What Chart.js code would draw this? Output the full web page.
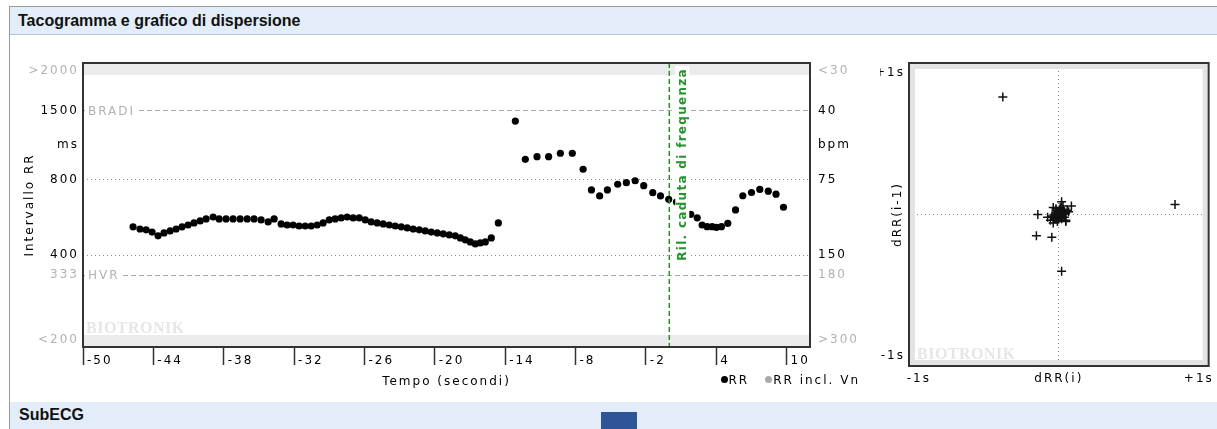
<!DOCTYPE html>
<html><head><meta charset="utf-8">
<script src="https://cdn.jsdelivr.net/npm/chart.js@4.4.1/dist/chart.umd.min.js"></script>
<style>
html,body{margin:0;padding:0;background:#fff;width:1217px;height:429px;overflow:hidden;}
.panel{position:absolute;left:9px;top:6px;width:1230px;height:395px;border-left:1px solid #9a9a9a;border-top:1px solid #9a9a9a;border-bottom:1px solid #9a9a9a;}
.hdr{position:absolute;left:10px;width:1230px;background:#e3edf9;font:bold 16px "Liberation Sans",Arial,sans-serif;color:#111;padding-left:8px;box-sizing:border-box;}
#h1{top:7px;height:28px;line-height:28px;border-bottom:1px solid #b9c4d2;}
#h2{top:402px;height:27px;line-height:25px;border-left:1px solid #9a9a9a;left:9px;padding-left:9px;}
#blk{position:absolute;left:601px;top:412px;width:36px;height:17px;background:#2d5597;}
canvas{position:absolute;}
#c1{left:10px;top:36px;}
#c2{left:880px;top:36px;}
#legend{position:absolute;right:357px;top:372px;font:12px "DejaVu Sans",sans-serif;letter-spacing:2px;color:#000;white-space:nowrap;line-height:16px;}
#legend span{margin-left:16px;}
#legend i{display:inline-block;width:7px;height:7px;border-radius:50%;margin-right:1px;vertical-align:1px;}
</style></head>
<body>
<div class="panel"></div>
<div class="hdr" id="h1">Tacogramma e grafico di dispersione</div>
<div class="hdr" id="h2">SubECG</div>
<div id="blk"></div>
<canvas id="c1" width="870" height="364"></canvas>
<canvas id="c2" width="337" height="364"></canvas>
<div id="legend"></div>
<script>
// ---- Tachogram data (time in s, RR interval in ms) ----
const TIME_S = [
 -45.73,-45.14,-44.62,-44.11,-43.60,-43.09,-42.57,-42.06,-41.55,-41.04,
 -40.53,-40.01,-39.50,-38.90,-38.39,-37.80,-37.20,-36.60,-36.00,-35.41,
 -34.81,-34.21,-33.70,-33.10,-32.59,-32.08,-31.57,-31.05,-30.54,-30.03,
 -29.52,-29.00,-28.49,-27.98,-27.47,-26.96,-26.44,-25.93,-25.42,-24.91,
 -24.40,-23.88,-23.37,-22.86,-22.35,-21.84,-21.32,-20.81,-20.30,-19.79,
 -19.28,-18.76,-18.25,-17.82,-17.40,-16.97,-16.54,-16.12,-15.69,-15.18,
 -14.58,
 -13.13,-12.28,-11.28,-10.29,-9.29,-8.27,-7.35,-6.64,-5.94,-5.28,
 -4.40,-3.66,-2.91,-2.18,-1.41,-0.75,-0.05,0.61,1.21,1.83,
 2.38,2.80,3.23,3.66,4.02,4.45,4.99,5.65,6.27,7.01,
 7.72,8.44,9.10,9.74
];
const RR_MS = [
 518,508,504,494,477,490,499,508,518,527,
 537,547,557,567,557,557,557,557,557,557,
 552,542,557,532,527,527,522,522,522,527,
 537,552,557,562,567,562,562,552,542,537,
 532,527,522,518,513,508,504,499,494,490,
 486,481,477,468,460,451,443,447,451,468,
 537,
 1368,963,986,986,1018,1018,879,727,688,727,
 766,777,791,756,709,688,667,650,625,581,
 563,527,519,519,516,519,535,605,689,710,
 730,719,699,620
];
const X_TICKS = [-50,-44,-38,-32,-26,-20,-14,-8,-2,4,10];
const Y_TICK_VALUES = [2170,1500,1100,800,400,333,183];
const Y_LEFT_LABELS = ['>2000','1500','ms','800','400','333','<200'];
const Y_RIGHT_LABELS = ['<30','40','bpm','75','150','180','>300'];
const GRAY_TICK_VALUES = [2170,333,183];
const OUT_OF_RANGE_HIGH = 2086, OUT_OF_RANGE_LOW = 192;
const REF_LINES = [{v:1500,label:'BRADI'},{v:333,label:'HVR'}];
const MARKER_T = 0;
const MARKER_LABEL = 'Ril. caduta di frequenza';

// ---- Poincaré / dispersion data (s) ----
const DRR_I  = [-0.40,0.83,0.02,-0.16,-0.05,-0.15,0.09,0.02,-0.08,0.05,0.07,
 -0.02,0.01,0.02,-0.01,0.00,0.03,-0.03,-0.02,0.01,0.02,-0.01,0.00,0.04,-0.04,0.03,-0.02,0.02,-0.03,
 0.05,0.01,-0.05,-0.01,0.00,0.01,-0.01,0.00,0.00,0.04,-0.02,0.06,0.03,-0.06,-0.04,0.02,-0.02,0.05,-0.04];
const DRR_I1 = [0.83,0.07,-0.40,-0.15,-0.16,0.00,0.06,0.09,-0.02,-0.05,0.02,
 0.01,-0.02,0.02,-0.01,0.02,0.00,0.00,-0.03,0.03,-0.01,0.02,-0.03,0.02,-0.02,0.03,0.03,-0.03,-0.03,
 0.01,0.05,-0.01,-0.05,0.00,0.00,0.00,0.01,-0.01,-0.02,0.04,0.03,0.06,-0.04,-0.06,0.00,-0.01,-0.04,0.05];
const P_TICKS = [-1,0,1];
const P_X_LABELS = ['-1s','dRR(i)','+1s'];
const P_Y_LABELS = ['-1s','','+1s'];

Chart.defaults.font.family = '"DejaVu Sans", Verdana, sans-serif';
Chart.defaults.font.size = 12;
Chart.defaults.color = '#000';

const BLACK = '#000', GRAY = '#b2b2b2', GREEN = '#23952a';

const tacoPlugin = {
  id:'taco',
  beforeDraw(chart){
    const ctx = chart.ctx; ctx.letterSpacing = '2px';
    const {left,right,top,bottom} = chart.chartArea; const y = chart.scales.y;
    ctx.save();
    ctx.fillStyle = '#ebebeb';
    const yh = y.getPixelForValue(OUT_OF_RANGE_HIGH);
    ctx.fillRect(left, top, right-left, yh-top);
    const yl = y.getPixelForValue(OUT_OF_RANGE_LOW);
    ctx.fillRect(left, yl, right-left, bottom-yl);
    ctx.letterSpacing = '0.5px';
    ctx.font = 'bold 16px "Liberation Serif", serif';
    ctx.fillStyle = '#e6e6e6'; ctx.textBaseline = 'alphabetic';
    ctx.fillText('BIOTRONIK', left+3, yl-2);
    ctx.restore();
  },
  beforeDatasetsDraw(chart){
    const ctx = chart.ctx; const {left} = chart.chartArea; const y = chart.scales.y;
    ctx.save();
    ctx.font = '12px "DejaVu Sans", sans-serif'; ctx.letterSpacing = '2px';
    ctx.textBaseline = 'middle'; ctx.textAlign = 'left';
    REF_LINES.forEach(r => {
      const py = y.getPixelForValue(r.v);
      const w = ctx.measureText(r.label).width;
      ctx.fillStyle = '#fff'; ctx.fillRect(left+2, py-7, w+4, 14);
      ctx.fillStyle = GRAY; ctx.fillText(r.label, left+5, py+1);
    });
    ctx.restore();
  },
  afterDatasetsDraw(chart){
    const ctx = chart.ctx; const {left,right,top,bottom} = chart.chartArea;
    const xm = chart.scales.x.getPixelForValue(MARKER_T);
    ctx.save();
    ctx.strokeStyle = GREEN; ctx.lineWidth = 1.5; ctx.setLineDash([5,3]);
    ctx.beginPath(); ctx.moveTo(xm, top); ctx.lineTo(xm, bottom); ctx.stroke();
    ctx.setLineDash([]);
    ctx.translate(xm+13, top+5); ctx.rotate(-Math.PI/2);
    ctx.font = 'bold 12px "DejaVu Sans", sans-serif'; ctx.letterSpacing = '1.3px';
    ctx.textAlign = 'right'; ctx.textBaseline = 'middle';
    const w = ctx.measureText(MARKER_LABEL).width;
    ctx.fillStyle = '#fff'; ctx.fillRect(-w-3, -7, w+5, 14);
    ctx.fillStyle = GREEN; ctx.fillText(MARKER_LABEL, 0, 1);
    ctx.restore();
    ctx.save();
    ctx.strokeStyle = '#333'; ctx.lineWidth = 2;
    ctx.strokeRect(left, top, right-left, bottom-top);
    ctx.restore();
  }
};

const isGray = v => GRAY_TICK_VALUES.includes(v);
function yCommon(pos, labels){
  return {
    type:'logarithmic', min:172, max:2330, position:pos,
    afterBuildTicks: s => { s.ticks = Y_TICK_VALUES.map(v => ({value:v})); },
    afterFit: s => { s.width = pos==='left' ? 73 : 70; },
    ticks:{ autoSkip:false, padding: pos==='left' ? 4 : 8,
      callback:(v,i) => labels[i],
      color: c => isGray(c.tick.value) ? GRAY : BLACK },
    border:{ display:false,
      dash: c => (c.tick && (c.tick.value===800 || c.tick.value===400)) ? [1,3] : [5,3] },
    grid:{ display: pos==='left', drawTicks:false, lineWidth:1,
      color: c => { const v = c.tick && c.tick.value;
        if (v===1500 || v===333) return '#a8a8a8';
        if (v===800 || v===400) return '#8c8c8c';
        return 'rgba(0,0,0,0)'; } },
    title: pos==='left' ? {display:true, text:'Intervallo RR', color:BLACK, padding:{top:13,bottom:13}} : {display:false}
  };
}

const chart1 = new Chart(document.getElementById('c1'), {
  type:'scatter',
  data:{ datasets:[
    { label:'RR', data: TIME_S.map((t,i) => ({x:t, y:RR_MS[i]})),
      backgroundColor:'#000', borderColor:'#000', pointRadius:3.6, pointBorderWidth:0, pointHoverRadius:3.6 },
    { label:'RR incl. Vn', data: [], backgroundColor:'#aaa', borderColor:'#aaa', pointRadius:3.6 }
  ]},
  options:{
    responsive:false, animation:false, devicePixelRatio:1,
    layout:{ padding:{ top:27, left:0, right:0, bottom:0 } },
    plugins:{ legend:{display:false}, tooltip:{enabled:false} },
    scales:{
      x:{ type:'linear', min:-50, max:12, position:'bottom',
        afterBuildTicks: s => { s.ticks = X_TICKS.map(v => ({value:v})); },
        afterFit: s => { s.height = 53; },
        grid:{ drawOnChartArea:false, drawTicks:true, tickLength:18, tickColor:'#333', tickWidth:1.5, color:'#333' },
        border:{ display:false },
        ticks:{ align:'start', labelOffset:4, padding:-11, color:BLACK, autoSkip:false, maxRotation:0, minRotation:0,
          callback: v => String(v) },
        title:{ display:true, text:'Tempo (secondi)', color:BLACK, padding:{top:0,bottom:11} }
      },
      y: yCommon('left', Y_LEFT_LABELS),
      y2: yCommon('right', Y_RIGHT_LABELS)
    }
  },
  plugins:[tacoPlugin]
});

// HTML legend built from the datasets
const leg = document.getElementById('legend');
chart1.data.datasets.forEach(ds => {
  const s = document.createElement('span');
  const dot = document.createElement('i'); dot.style.background = ds.backgroundColor;
  s.appendChild(dot); s.appendChild(document.createTextNode(ds.label));
  leg.appendChild(s);
});

const poincarePlugin = {
  id:'poinc',
  beforeDraw(chart){ chart.ctx.letterSpacing = '2px'; },
  beforeDatasetsDraw(chart){
    const ctx = chart.ctx; const {left,right,top,bottom} = chart.chartArea;
    ctx.save();
    ctx.strokeStyle = '#e3e3e3'; ctx.lineWidth = 5;
    ctx.strokeRect(left+3.5, top+3.5, right-left-7, bottom-top-7);
    ctx.letterSpacing = '0.5px';
    ctx.font = 'bold 16px "Liberation Serif", serif';
    ctx.fillStyle = '#e6e6e6'; ctx.textBaseline = 'alphabetic';
    ctx.fillText('BIOTRONIK', left+8, bottom-7);
    ctx.restore();
  },
  afterDatasetsDraw(chart){
    const ctx = chart.ctx; const {left,right,top,bottom} = chart.chartArea;
    ctx.save(); ctx.strokeStyle = '#333'; ctx.lineWidth = 2;
    ctx.strokeRect(left, top, right-left, bottom-top); ctx.restore();
  }
};

function pAxis(isX){
  return {
    type:'linear', min:-1.07, max:1.07, position: isX ? 'bottom' : 'left',
    afterBuildTicks: s => { s.ticks = P_TICKS.map(v => ({value:v})); },
    afterFit: s => { if (isX) s.height = 34; else s.width = 29; },
    grid:{ drawTicks:false, lineWidth:1,
      color: c => (c.tick && c.tick.value === 0) ? '#888' : 'rgba(0,0,0,0)' },
    border:{ display:false, dash:[1,3] },
    ticks:{ autoSkip:false, maxRotation:0, minRotation:0, padding: isX ? 6 : 4, color:BLACK,
      callback: (v,i) => (isX ? P_X_LABELS : P_Y_LABELS)[i] },
    title: isX ? {display:false} : {display:true, text:'dRR(i-1)', color:BLACK, padding:{top:11,bottom:11}}
  };
}

new Chart(document.getElementById('c2'), {
  type:'scatter',
  data:{ datasets:[{ label:'dRR', data: DRR_I.map((v,i) => ({x:v, y:DRR_I1[i]})),
    pointStyle:'cross', pointRadius:4.5, pointBorderWidth:1.5, borderColor:'#111', backgroundColor:'#111', pointHoverRadius:4.5 }]},
  options:{
    responsive:false, animation:false, devicePixelRatio:1,
    layout:{ padding:{ top:27, right:2, left:0, bottom:0 } },
    plugins:{ legend:{display:false}, tooltip:{enabled:false} },
    scales:{ x: pAxis(true), y: pAxis(false) }
  },
  plugins:[poincarePlugin]
});
</script>
</body></html>
